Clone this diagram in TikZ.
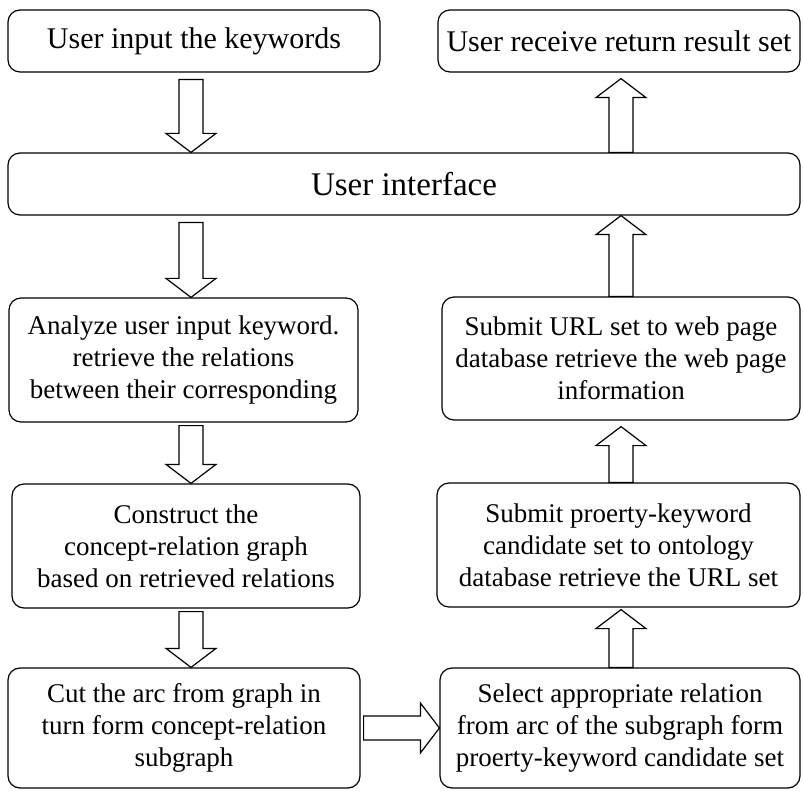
\documentclass[tikz,border=0pt]{standalone}
\usepackage{fontspec}
\setmainfont{Liberation Serif}
\usetikzlibrary{calc}

\tikzset{
  stepbox/.style={draw, rounded corners=12pt, line width=1.2pt, align=center,
    inner sep=2pt, font=\fontsize{27}{32}\selectfont},
  hollow/.style={draw, line width=1.2pt, fill=white, line join=miter}
}

% hollow block arrow from #1 to #2
\newcommand{\hollowarrow}[2]{%
  \coordinate (hb) at ($(#2)!19pt!(#1)$);
  \draw[hollow] ($(#1)!12pt!90:(#2)$) -- ($(hb)!12pt!90:(#2)$)
    -- ($(hb)!25pt!90:(#2)$) -- (#2) -- ($(hb)!25pt!-90:(#2)$)
    -- ($(hb)!12pt!-90:(#2)$) -- ($(#1)!12pt!-90:(#2)$) -- cycle;
}

\begin{document}
\begin{tikzpicture}[x=1pt,y=-1pt]
\useasboundingbox (0,0) rectangle (803,791);

\node[stepbox, minimum width=372pt, minimum height=62pt, font=\fontsize{30}{34}\selectfont] (kw) at (194,41) {User input the keywords};
\node[stepbox, minimum width=362pt, minimum height=62pt, font=\fontsize{30}{34}\selectfont] (res) at (619,41) {User receive return result set};

\node[stepbox, minimum width=792pt, minimum height=62pt, font=\fontsize{33}{38}\selectfont] (ui) at (404,184) {User interface};

\node[stepbox, minimum width=349pt, minimum height=124pt] (analyze) at (183.5,360)
  {Analyze user input keyword.\\retrieve the relations\\between their corresponding};
\node[stepbox, minimum width=358pt, minimum height=123pt] (url) at (621,358.5)
  {Submit URL set to web page\\database retrieve the web page\\information};

\node[stepbox, minimum width=348pt, minimum height=124pt] (construct) at (186,546)
  {Construct the\\concept-relation graph\\based on retrieved relations};
\node[stepbox, minimum width=363pt, minimum height=124pt] (ontology) at (618.5,545)
  {Submit proerty-keyword\\candidate set to ontology\\database retrieve the URL set};

\node[stepbox, minimum width=352pt, minimum height=120pt] (cut) at (184,728)
  {Cut the arc from graph in\\turn form concept-relation\\subgraph};
\node[stepbox, minimum width=360pt, minimum height=120pt] (select) at (620,728)
  {Select appropriate relation\\from arc of the subgraph form\\proerty-keyword candidate set};

% arrows
\coordinate (k1) at ([xshift=-3pt,yshift=-7pt]kw.south);
\coordinate (k2) at (k1 |- ui.north);
\hollowarrow{k1}{k2}

\coordinate (r1) at ([xshift=2pt]res.south |- ui.north);
\coordinate (r2) at ([xshift=2pt,yshift=-6pt]res.south);
\hollowarrow{r1}{r2}

\coordinate (u1) at ([yshift=-7pt]ui.south -| k1);
\coordinate (u2) at (u1 |- analyze.north);
\hollowarrow{u1}{u2}

\coordinate (w1) at (url.north);
\coordinate (w2) at (w1 |- ui.south);
\hollowarrow{w1}{w2}

\coordinate (c1) at ([yshift=-3pt]analyze.south -| k1);
\coordinate (c2) at (c1 |- construct.north);
\hollowarrow{c1}{c2}

\coordinate (p1) at (ontology.north -| w1);
\coordinate (p2) at ([yshift=-6pt]url.south -| w1);
\hollowarrow{p1}{p2}

\coordinate (t1) at ([yshift=-3pt]construct.south -| k1);
\coordinate (t2) at (t1 |- cut.north);
\hollowarrow{t1}{t2}

\coordinate (s1) at (select.north -| w1);
\coordinate (s2) at ([yshift=-2pt]ontology.south -| w1);
\hollowarrow{s1}{s2}

\coordinate (h1) at ([xshift=3pt]cut.east);
\coordinate (h2) at (h1 -| select.west);
\hollowarrow{h1}{h2}
\end{tikzpicture}
\end{document}
